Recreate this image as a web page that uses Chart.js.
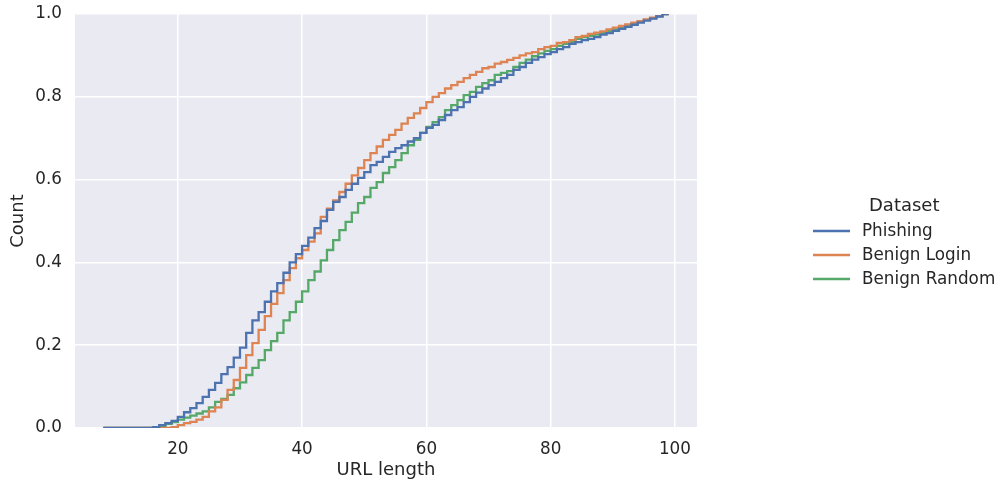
<!DOCTYPE html>
<html>
<head>
<meta charset="utf-8">
<script src="https://cdn.jsdelivr.net/npm/chart.js@4"></script>
<style>
  html, body { margin:0; padding:0; background:#ffffff; }
  #wrap { width:1000px; height:482px; position:relative; }
</style>
</head>
<body>
<div id="wrap"><canvas id="ecdf" width="1000" height="482"></canvas></div>
<script>
// ─── Data ─────────────────────────────────────────────────────────────────────
// bin edges (URL length), 91 bins of width 1 from 8 to 99
const binEdges = [8,9,10,11,12,13,14,15,16,17,18,19,20,21,22,23,24,25,26,27,28,29,30,31,32,33,34,35,36,37,38,39,40,
  41,42,43,44,45,46,47,48,49,50,51,52,53,54,55,56,57,58,59,60,61,62,63,64,65,66,67,68,69,70,71,72,73,74,75,76,77,78,
  79,80,81,82,83,84,85,86,87,88,89,90,91,92,93,94,95,96,97,98,99];

const seriesNames = ["Phishing", "Benign Login", "Benign Random"];

// cumulative share per bin (bins 8..98)
const phishing = [0,0,0,0,0,0,0,0,
  0.002,0.007,0.012,0.017,0.027,0.038,0.048,0.06,0.075,0.092,0.109,0.13,0.147,0.17,0.194,0.23,0.26,0.28,0.305,0.33,
  0.35,0.375,0.40,0.42,0.44,0.46,0.483,0.50,0.527,0.546,0.558,0.575,0.59,0.604,0.618,0.635,0.643,0.655,0.667,0.676,
  0.683,0.692,0.70,0.713,0.725,0.732,0.744,0.756,0.768,0.775,0.787,0.80,0.81,0.82,0.828,0.836,0.845,0.853,0.865,0.872,
  0.882,0.89,0.896,0.903,0.908,0.915,0.92,0.928,0.932,0.937,0.94,0.944,0.95,0.954,0.959,0.964,0.969,0.974,0.979,0.984,
  0.989,0.994,1.0];

const benignLogin = [0,0,0,0,0,0,0,0,0,0,0,
  0.002,0.007,0.012,0.015,0.02,0.027,0.04,0.05,0.068,0.092,0.116,0.145,0.176,0.205,0.237,0.27,0.30,0.326,0.357,0.386,
  0.41,0.43,0.45,0.47,0.51,0.53,0.55,0.57,0.59,0.61,0.628,0.647,0.664,0.68,0.696,0.708,0.72,0.735,0.749,0.76,0.773,
  0.787,0.80,0.809,0.82,0.828,0.836,0.845,0.853,0.86,0.869,0.872,0.88,0.884,0.889,0.894,0.90,0.905,0.908,0.915,0.92,
  0.923,0.93,0.932,0.937,0.944,0.947,0.952,0.955,0.958,0.963,0.967,0.971,0.975,0.979,0.983,0.987,0.991,0.995,1.0];

const benignRandom = [0,0,0,0,0,0,0,0,0,
  0.003,0.01,0.014,0.02,0.025,0.03,0.035,0.04,0.05,0.063,0.07,0.08,0.096,0.11,0.128,0.145,0.164,0.188,0.21,0.23,0.26,
  0.28,0.305,0.33,0.357,0.378,0.405,0.43,0.454,0.478,0.498,0.52,0.543,0.558,0.58,0.594,0.616,0.63,0.647,0.664,0.683,
  0.696,0.713,0.727,0.739,0.751,0.768,0.78,0.792,0.804,0.812,0.824,0.833,0.84,0.853,0.858,0.862,0.872,0.882,0.89,0.898,
  0.905,0.911,0.915,0.923,0.928,0.932,0.94,0.944,0.947,0.95,0.954,0.959,0.963,0.968,0.972,0.977,0.981,0.986,0.99,
  0.995,1.0];

const xTicks = [20, 40, 60, 80, 100];
const yTicks = [0, 0.2, 0.4, 0.6, 0.8, 1.0];

// ─── Styling ──────────────────────────────────────────────────────────────────
const COLORS = ["#4c72b0", "#dd8452", "#55a868"];
const TEXT = "#262626";
const FONT = "DejaVu Sans";

function stepPoints(vals) {
  const pts = vals.map((v, i) => ({ x: binEdges[i], y: v }));
  pts.push({ x: binEdges[binEdges.length - 1], y: vals[vals.length - 1] });
  return pts;
}

const allSeries = [phishing, benignLogin, benignRandom];

const legendPlugin = {
  id: "seabornLegend",
  afterDraw(chart) {
    const ctx = chart.ctx;
    ctx.save();
    ctx.fillStyle = TEXT;
    ctx.textBaseline = "middle";
    ctx.textAlign = "left";
    ctx.font = "18px " + FONT;
    ctx.fillText("Dataset", 869, 206);
    ctx.font = "16.8px " + FONT;
    chart.data.datasets.forEach((ds, i) => {
      const y = 231 + i * 24;
      ctx.strokeStyle = ds.borderColor;
      ctx.lineWidth = 2.3;
      ctx.beginPath();
      ctx.moveTo(813, y);
      ctx.lineTo(850, y);
      ctx.stroke();
      ctx.fillStyle = TEXT;
      ctx.fillText(ds.label, 862, y + 1);
    });
    ctx.restore();
  }
};

new Chart(document.getElementById("ecdf"), {
  type: "line",
  data: {
    datasets: allSeries.map((vals, i) => ({
      label: seriesNames[i],
      data: stepPoints(vals),
      borderColor: COLORS[i],
      borderWidth: 2.3,
      pointRadius: 0,
      stepped: "before",
      fill: false,
      tension: 0
    }))
  },
  options: {
    responsive: false,
    animation: false,
    events: [],
    layout: { padding: { left: 0, top: 14, right: 303, bottom: 0 } },
    plugins: { legend: { display: false }, tooltip: { enabled: false } },
    scales: {
      x: {
        type: "linear",
        min: 3.45,
        max: 103.55,
        afterBuildTicks: s => { s.ticks = xTicks.map(v => ({ value: v })); },
        afterFit: s => { s.height = 54; s.paddingLeft = 0; s.paddingRight = 0; },
        grid: { color: "#ffffff", lineWidth: 1.5, drawTicks: false },
        border: { display: false },
        ticks: { color: TEXT, font: { family: FONT, size: 16.8 }, padding: 12, maxRotation: 0 },
        title: { display: true, text: "URL length", color: TEXT, font: { family: FONT, size: 18 }, padding: { top: 2, bottom: 1 } }
      },
      y: {
        min: 0,
        max: 1,
        afterBuildTicks: s => { s.ticks = yTicks.map(v => ({ value: v })); },
        afterFit: s => { s.width = 75; s.paddingTop = 0; s.paddingBottom = 0; },
        grid: { color: "#ffffff", lineWidth: 1.5, drawTicks: false },
        border: { display: false },
        ticks: { color: TEXT, font: { family: FONT, size: 16.8 }, padding: 13, callback: v => v.toFixed(1) },
        title: { display: true, text: "Count", color: TEXT, font: { family: FONT, size: 18 }, padding: { top: 8, bottom: 0 } }
      }
    }
  },
  plugins: [{
    id: "plotBg",
    beforeDraw(chart) {
      const a = chart.chartArea, ctx = chart.ctx;
      ctx.save();
      ctx.fillStyle = "#eaeaf2";
      ctx.fillRect(a.left, a.top, a.right - a.left, a.bottom - a.top);
      ctx.restore();
    }
  }, legendPlugin]
});
</script>
</body>
</html>
